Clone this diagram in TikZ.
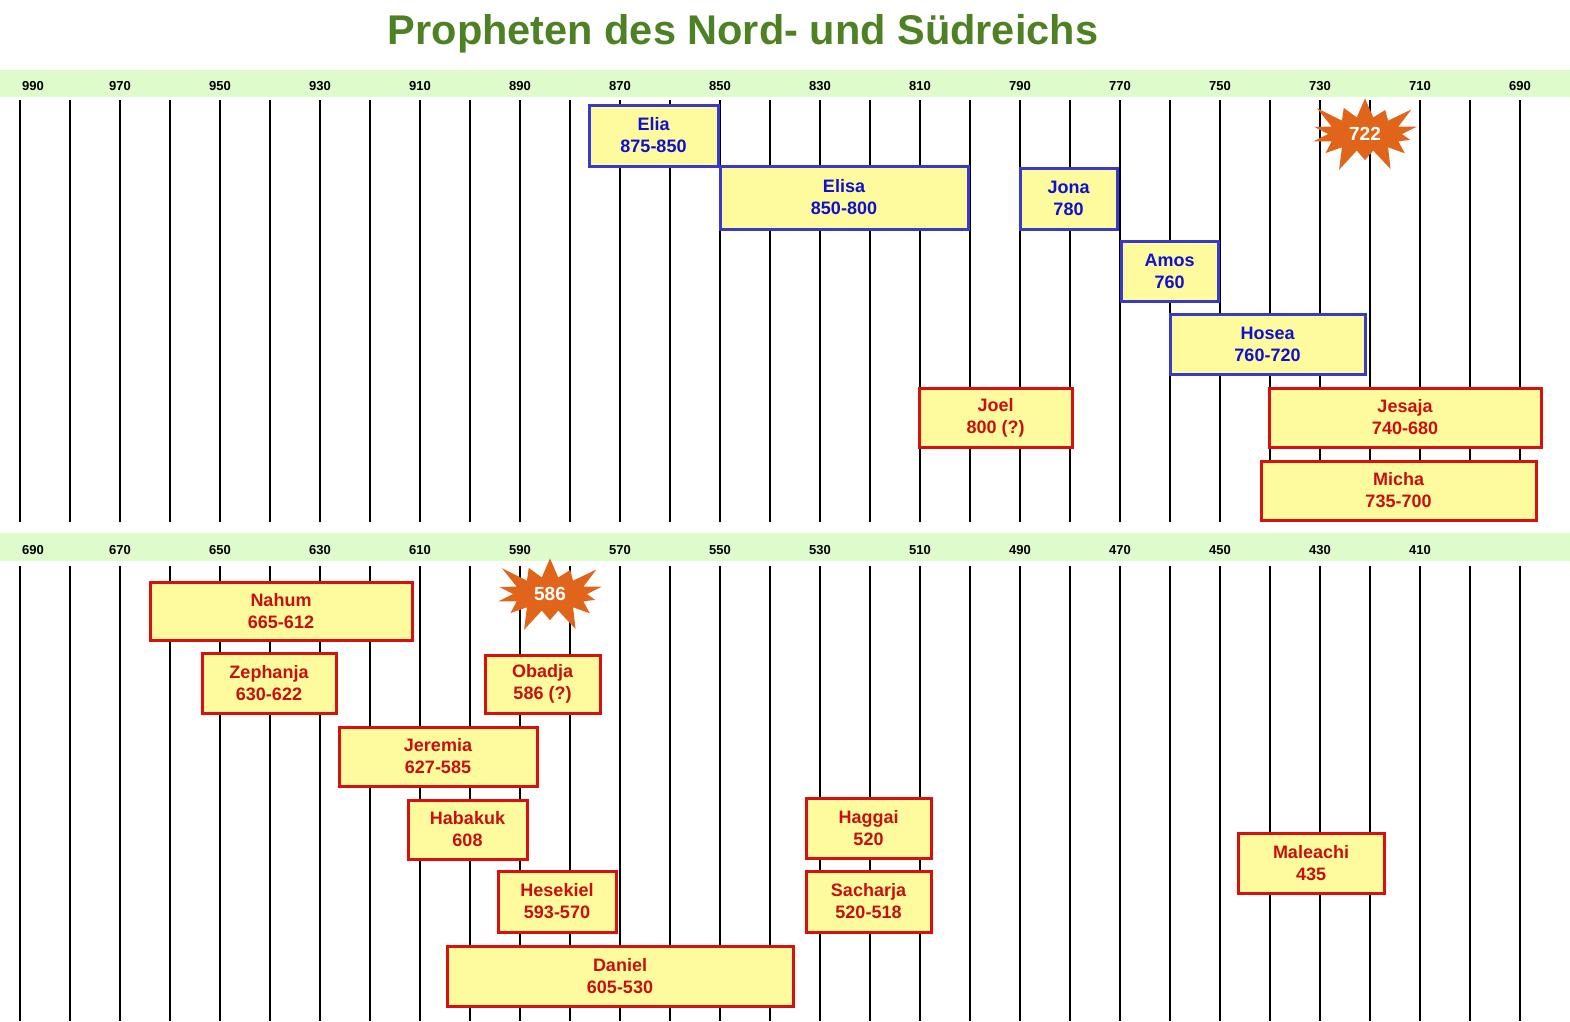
\documentclass[tikz,border=0pt]{standalone}
\usepackage{fontspec}
\setmainfont{Liberation Sans}
\usetikzlibrary{shapes.symbols}
\definecolor{band}{HTML}{DDFBCB}
\definecolor{boxfill}{HTML}{FDFB9E}
\definecolor{bluec}{HTML}{3A3AC8}
\definecolor{bluet}{HTML}{1010D0}
\definecolor{redc}{HTML}{D81010}
\definecolor{redt}{HTML}{C81010}
\definecolor{titlec}{HTML}{4E8024}
\definecolor{burst}{HTML}{E0651A}
\tikzset{
  pbox/.style={draw, line width=3pt, fill=boxfill, inner sep=0pt, font=\bfseries\fontsize{18}{22}\selectfont, align=center},
  north/.style={pbox, draw=bluec, text=bluet},
  south/.style={pbox, draw=redc, text=redt},
  yr/.style={font=\bfseries\fontsize{13}{14}\selectfont},
  burstnode/.style={starburst, starburst points=14, starburst point height=26pt, fill=burst, text=white, font=\bfseries\fontsize{19}{20}\selectfont, minimum width=126pt, minimum height=86pt, inner sep=0pt}
}
\newcommand{\pb}[6]{\node[#1, minimum width={#4-#3}, minimum height={#6-#5}] (#2) at ({(#3+#4)/2},{(#5+#6)/2}) {};}
\begin{document}
\begin{tikzpicture}[x=1pt,y=-1pt]
\useasboundingbox (0,0) rectangle (1570,1021);
\node[font=\bfseries\fontsize{41.5}{44}\selectfont, text=titlec] (title) at (743,34) {Propheten des Nord- und Südreichs};
\fill[band] (0,70) rectangle (1570,97);
\fill[band] (0,533) rectangle (1570,561);
\foreach \i in {0,...,30}{
  \draw[line width=1.5pt] (20+50*\i,100) -- (20+50*\i,522);
  \draw[line width=1.5pt] (20+50*\i,566) -- (20+50*\i,1021);
}
\node[yr] (t990) at (33,86) {990};
\foreach \i [evaluate=\i as \y using int(970-20*\i)] in {0,...,14}{
  \node[yr] (t\i) at (120+100*\i,86) {\y};
}
\node[yr] (b690) at (33,550) {690};
\foreach \i [evaluate=\i as \y using int(670-20*\i)] in {0,...,13}{
  \node[yr] (b\i) at (120+100*\i,550) {\y};
}
\pb{north}{elia}{589}{718}{105}{166}
\node[north,draw=none,fill=none] at (elia) {Elia\\875-850};
\pb{north}{elisa}{720}{968}{166}{229}
\node[north,draw=none,fill=none] at (elisa) {Elisa\\850-800};
\pb{north}{jona}{1020}{1117}{168}{229}
\node[north,draw=none,fill=none] at (jona) {Jona\\780};
\pb{north}{amos}{1121}{1218}{241}{301}
\node[north,draw=none,fill=none] at (amos) {Amos\\760};
\pb{north}{hosea}{1170}{1365}{314}{374}
\node[north,draw=none,fill=none] at (hosea) {Hosea\\760-720};
\pb{south}{joel}{919}{1072}{388}{447}
\node[south,draw=none,fill=none] at (joel) {Joel\\800 (?)};
\pb{south}{jesaja}{1269}{1541}{388}{447}
\node[south,draw=none,fill=none] at (jesaja) {Jesaja\\740-680};
\pb{south}{micha}{1261}{1536}{461}{520}
\node[south,draw=none,fill=none] at (micha) {Micha\\735-700};
\pb{south}{nahum}{150}{412}{582}{640}
\node[south,draw=none,fill=none] at (nahum) {Nahum\\665-612};
\pb{south}{zeph}{202}{336}{653}{713}
\node[south,draw=none,fill=none] at (zeph) {Zephanja\\630-622};
\pb{south}{obadja}{485}{600}{655}{713}
\node[south,draw=none,fill=none] at (obadja) {Obadja\\586 (?)};
\pb{south}{jeremia}{339}{537}{727}{786}
\node[south,draw=none,fill=none] at (jeremia) {Jeremia\\627-585};
\pb{south}{habakuk}{408}{527}{800}{859}
\node[south,draw=none,fill=none] at (habakuk) {Habakuk\\608};
\pb{south}{haggai}{806}{931}{798}{858}
\node[south,draw=none,fill=none] at (haggai) {Haggai\\520};
\pb{south}{sacharja}{806}{931}{871}{932}
\node[south,draw=none,fill=none] at (sacharja) {Sacharja\\520-518};
\pb{south}{maleachi}{1238}{1384}{833}{893}
\node[south,draw=none,fill=none] at (maleachi) {Maleachi\\435};
\pb{south}{hesekiel}{498}{616}{871}{932}
\node[south,draw=none,fill=none] at (hesekiel) {Hesekiel\\593-570};
\pb{south}{daniel}{447}{793}{946}{1006}
\node[south,draw=none,fill=none] at (daniel) {Daniel\\605-530};
\node[burstnode] (b722) at (1365,134) {722};
\node[burstnode] (b586) at (550,594) {586};
\end{tikzpicture}
\end{document}
